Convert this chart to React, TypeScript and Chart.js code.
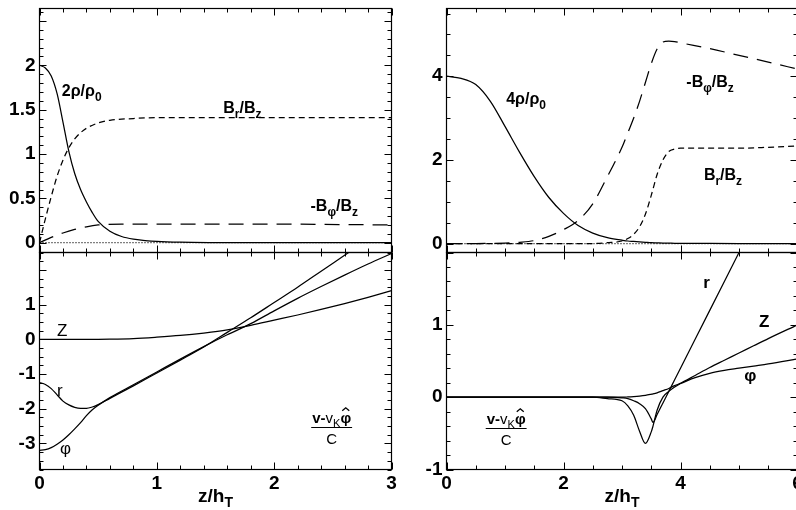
import React, { useEffect, useRef } from 'react';
import { Chart, registerables } from 'chart.js';

Chart.register(...registerables);

// ---------------- data ----------------
const LEFT_X_TICKS = [0, 1, 2, 3];
const RIGHT_X_TICKS = [0, 2, 4, 6];
const TL_Y_TICKS = [0, 0.5, 1, 1.5, 2];
const BL_Y_TICKS = [-3, -2, -1, 0, 1];
const TR_Y_TICKS = [0, 2, 4];
const BR_Y_TICKS = [-1, 0, 1];

// top-left
const TL_RHO_X = [0, 0.05, 0.1, 0.15, 0.2, 0.25, 0.3, 0.35, 0.4, 0.45, 0.5, 0.6, 0.7, 0.8, 0.9, 1.0, 1.2, 1.5, 2.0, 3.0];
const TL_RHO = [2.0, 1.97, 1.88, 1.68, 1.36, 1.03, 0.78, 0.6, 0.46, 0.34, 0.24, 0.13, 0.07, 0.04, 0.025, 0.015, 0.006, 0.002, 0, 0];
const TL_BR_X = [0, 0.05, 0.1, 0.15, 0.2, 0.25, 0.3, 0.35, 0.4, 0.5, 0.6, 0.8, 1.0, 1.5, 2.0, 3.0];
const TL_BR = [0, 0.27, 0.52, 0.75, 0.93, 1.07, 1.17, 1.24, 1.29, 1.35, 1.38, 1.4, 1.41, 1.41, 1.41, 1.41];
const TL_BPHI_X = [0, 0.1, 0.2, 0.3, 0.4, 0.5, 0.7, 1.0, 2.0, 3.0];
const TL_BPHI = [0, 0.06, 0.11, 0.15, 0.18, 0.2, 0.21, 0.21, 0.21, 0.2];
const TL_ZERO_X = [0, 3];
const TL_ZERO = [0, 0];

// bottom-left
const BL_X = [0, 0.05, 0.1, 0.15, 0.2, 0.25, 0.3, 0.35, 0.4, 0.45, 0.5, 0.6, 0.8, 1.0, 1.2, 1.4, 1.6, 1.8, 2.0, 2.2, 2.4, 2.6, 2.8, 3.0];
const BL_Z = [0, 0, 0, 0, 0, 0, 0, 0, 0, 0, 0, 0.003, 0.02, 0.06, 0.11, 0.18, 0.27, 0.4, 0.55, 0.7, 0.86, 1.03, 1.21, 1.4];
const BL_R = [-1.25, -1.3, -1.42, -1.6, -1.78, -1.89, -1.96, -1.99, -1.99, -1.95, -1.88, -1.7, -1.34, -0.97, -0.6, -0.22, 0.2, 0.62, 1.06, 1.5, 1.96, 2.42, 2.88, 3.34];
const BL_PHI = [-3.2, -3.18, -3.12, -3.02, -2.9, -2.75, -2.58, -2.4, -2.2, -2.03, -1.9, -1.68, -1.31, -0.94, -0.57, -0.21, 0.13, 0.45, 0.82, 1.18, 1.52, 1.85, 2.17, 2.47];

// top-right
const TR_X = [0, 0.25, 0.5, 0.75, 1.0, 1.25, 1.5, 1.75, 2.0, 2.25, 2.5, 2.75, 3.0, 3.1, 3.2, 3.3, 3.4, 3.5, 3.6, 3.7, 3.8, 3.9, 4.0, 4.5, 5.0, 5.5, 6.0];
const TR_RHO = [4.0, 3.95, 3.8, 3.4, 2.8, 2.18, 1.6, 1.1, 0.72, 0.43, 0.25, 0.14, 0.08, 0.06, 0.05, 0.04, 0.03, 0.02, 0.015, 0.01, 0.008, 0.005, 0.004, 0.001, 0, 0, 0];
const TR_BPHI = [0, 0, 0, 0.005, 0.01, 0.03, 0.07, 0.17, 0.33, 0.55, 0.95, 1.6, 2.3, 2.65, 3.0, 3.4, 3.85, 4.3, 4.65, 4.82, 4.84, 4.83, 4.8, 4.66, 4.5, 4.34, 4.17];
const TR_BR = [0, 0, 0, 0, 0, 0, 0, 0, 0, 0, 0, 0.02, 0.06, 0.12, 0.22, 0.4, 0.7, 1.15, 1.65, 2.0, 2.2, 2.26, 2.28, 2.28, 2.28, 2.3, 2.33];
const TR_ZERO_X = [0, 6];
const TR_ZERO = [0, 0];

// bottom-right
const BR_X = [0, 1, 2, 2.5, 2.75, 3.0, 3.1, 3.2, 3.3, 3.4, 3.5, 3.53, 3.6, 3.7, 3.8, 3.9, 4.0, 4.25, 4.5, 4.75, 5.0, 5.25, 5.5, 6.0];
const BR_R = [0, 0, 0, 0, 0, -0.01, -0.02, -0.05, -0.09, -0.16, -0.3, -0.35, -0.24, -0.08, 0.08, 0.24, 0.4, 0.8, 1.2, 1.6, 2.0, 2.4, 2.8, 3.6];
const BR_Z = [0, 0, 0, 0, -0.02, -0.05, -0.12, -0.25, -0.47, -0.64, -0.48, -0.4, -0.18, 0.0, 0.08, 0.14, 0.19, 0.3, 0.41, 0.51, 0.61, 0.71, 0.81, 1.0];
const BR_PHI = [0, 0, 0, 0, 0, 0, 0.003, 0.008, 0.015, 0.025, 0.04, 0.045, 0.06, 0.09, 0.12, 0.16, 0.19, 0.27, 0.33, 0.37, 0.4, 0.43, 0.46, 0.53];

// ---------------- styling / layout ----------------
const FONT = '"Liberation Sans", Arial, Helvetica, sans-serif';
const CW = 800;
const CH = 510;
const Y_W = 30;
const X_H = 40;
const SOLID: number[] = [];
const SHORT_DASH = [6, 4];
const LONG_DASH = [15, 9];
const DOTTED = [1, 2];

type Part = { t: string; sub?: boolean; bold?: boolean; hat?: boolean };
type Label = { x: number; y: number; parts: Part[]; bold?: boolean; size?: number };
type Frac = { x: number; y: number; num: Part[]; den: string };
type Series = { x: number[]; y: number[]; dash: number[]; width?: number };
type Panel = {
  x0: number; x1: number; y0: number; y1: number;
  xMin: number; xMax: number; yMin: number; yMax: number;
  xTicks: number[]; yTicks: number[];
  xMinor: number; xMajor: number; yMinor: number; yMajor: number;
  showX: boolean;
  series: Series[];
  labels: Label[];
  frac?: Frac;
};

const B_R: Part[] = [{ t: 'B' }, { t: 'r', sub: true }, { t: '/B' }, { t: 'z', sub: true }];
const B_PHI: Part[] = [{ t: '-B' }, { t: 'φ', sub: true }, { t: '/B' }, { t: 'z', sub: true }];
const V_FRAC: Part[] = [{ t: 'v', bold: true }, { t: '-', bold: true }, { t: 'v', bold: false }, { t: 'K', sub: true, bold: false }, { t: 'φ', bold: true, hat: true }];

const PANELS: Panel[] = [
  {
    x0: 39.5, x1: 391.5, y0: 8.5, y1: 252.5,
    xMin: 0, xMax: 3, yMin: -0.11, yMax: 2.64,
    xTicks: LEFT_X_TICKS, yTicks: TL_Y_TICKS,
    xMinor: 0.2, xMajor: 1, yMinor: 0.1, yMajor: 0.5,
    showX: false,
    series: [
      { x: TL_ZERO_X, y: TL_ZERO, dash: DOTTED },
      { x: TL_RHO_X, y: TL_RHO, dash: SOLID },
      { x: TL_BR_X, y: TL_BR, dash: SHORT_DASH },
      { x: TL_BPHI_X, y: TL_BPHI, dash: LONG_DASH },
    ],
    labels: [
      { x: 0.19, y: 1.65, parts: [{ t: '2ρ/ρ' }, { t: '0', sub: true }] },
      { x: 1.566, y: 1.46, parts: B_R },
      { x: 2.31, y: 0.357, parts: B_PHI },
    ],
  },
  {
    x0: 39.5, x1: 391.5, y0: 252.5, y1: 469.5,
    xMin: 0, xMax: 3, yMin: -3.75, yMax: 2.5,
    xTicks: LEFT_X_TICKS, yTicks: BL_Y_TICKS,
    xMinor: 0.2, xMajor: 1, yMinor: 0.25, yMajor: 1,
    showX: true,
    series: [
      { x: BL_X, y: BL_Z, dash: SOLID },
      { x: BL_X, y: BL_R, dash: SOLID },
      { x: BL_X, y: BL_PHI, dash: SOLID },
    ],
    labels: [
      { x: 0.15, y: 0.1, parts: [{ t: 'Z' }], bold: false, size: 17 },
      { x: 0.15, y: -1.62, parts: [{ t: 'r' }], bold: false, size: 17 },
      { x: 0.175, y: -3.29, parts: [{ t: 'φ' }], bold: false, size: 17 },
    ],
    frac: { x: 2.49, y: -2.53, num: V_FRAC, den: 'C' },
  },
  {
    x0: 446.5, x1: 797.5, y0: 8.5, y1: 252.5,
    xMin: 0, xMax: 6, yMin: -0.215, yMax: 5.62,
    xTicks: RIGHT_X_TICKS, yTicks: TR_Y_TICKS,
    xMinor: 0.5, xMajor: 2, yMinor: 0.5, yMajor: 2,
    showX: false,
    series: [
      { x: TR_ZERO_X, y: TR_ZERO, dash: DOTTED },
      { x: TR_X, y: TR_RHO, dash: SOLID },
      { x: TR_X, y: TR_BPHI, dash: LONG_DASH },
      { x: TR_X, y: TR_BR, dash: SHORT_DASH },
    ],
    labels: [
      { x: 1.02, y: 3.33, parts: [{ t: '4ρ/ρ' }, { t: '0', sub: true }] },
      { x: 4.1, y: 3.74, parts: B_PHI },
      { x: 4.4, y: 1.52, parts: B_R },
    ],
  },
  {
    x0: 446.5, x1: 797.5, y0: 252.5, y1: 469.5,
    xMin: 0, xMax: 6, yMin: -1, yMax: 2,
    xTicks: RIGHT_X_TICKS, yTicks: BR_Y_TICKS,
    xMinor: 0.5, xMajor: 2, yMinor: 0.2, yMajor: 1,
    showX: true,
    series: [
      { x: BR_X, y: BR_R, dash: SOLID },
      { x: BR_X, y: BR_Z, dash: SOLID },
      { x: BR_X, y: BR_PHI, dash: SOLID },
    ],
    labels: [
      { x: 4.39, y: 1.51, parts: [{ t: 'r' }], size: 17 },
      { x: 5.34, y: 0.97, parts: [{ t: 'Z' }], size: 17 },
      { x: 5.09, y: 0.23, parts: [{ t: 'φ' }], size: 17 },
    ],
    frac: { x: 1.02, y: -0.42, num: V_FRAC, den: 'C' },
  },
];

function partFont(p: Part, size: number, bold: boolean) {
  const b = p.bold !== undefined ? p.bold : bold;
  const s = p.sub ? Math.round(size * 0.72) : size;
  return `${b ? 'bold ' : ''}${s}px ${FONT}`;
}

function measureRich(ctx: CanvasRenderingContext2D, parts: Part[], size: number, bold: boolean) {
  return parts.map((p) => {
    ctx.font = partFont(p, size, bold);
    return ctx.measureText(p.t).width;
  });
}

function drawRich(ctx: CanvasRenderingContext2D, parts: Part[], x: number, y: number, size: number, bold: boolean, align: 'left' | 'center') {
  const widths = measureRich(ctx, parts, size, bold);
  const total = widths.reduce((a, b) => a + b, 0);
  let cx = align === 'center' ? x - total / 2 : x;
  ctx.textAlign = 'left';
  ctx.textBaseline = 'alphabetic';
  parts.forEach((p, i) => {
    ctx.font = partFont(p, size, bold);
    const yy = p.sub ? y + size * 0.3 : y;
    ctx.fillText(p.t, cx, yy);
    if (p.hat) {
      const mx = cx + widths[i] / 2;
      const top = y - size * 0.98;
      ctx.beginPath();
      ctx.moveTo(mx - 3.5, top + 3);
      ctx.lineTo(mx, top);
      ctx.lineTo(mx + 3.5, top + 3);
      ctx.lineWidth = 1.3;
      ctx.stroke();
    }
    cx += widths[i];
  });
  return total;
}

function makePlugin(panel: Panel) {
  return {
    id: 'panelDecor',
    afterDraw(chart: any) {
      const { ctx, chartArea: a, scales } = chart;
      const xs = scales.x;
      const ys = scales.y;
      ctx.save();
      ctx.strokeStyle = '#000';
      ctx.fillStyle = '#000';
      ctx.lineWidth = 1.2;
      ctx.strokeRect(a.left, a.top, a.right - a.left, a.bottom - a.top);
      ctx.lineWidth = 1;
      const seg = (x1: number, y1: number, x2: number, y2: number) => {
        ctx.beginPath();
        ctx.moveTo(x1, y1);
        ctx.lineTo(x2, y2);
        ctx.stroke();
      };
      const ticks = (min: number, max: number, minor: number, major: number, fn: (v: number, len: number) => void) => {
        const n0 = Math.ceil(min / minor - 1e-6);
        const n1 = Math.floor(max / minor + 1e-6);
        for (let n = n0; n <= n1; n++) {
          const v = n * minor;
          const r = v / major;
          const isMajor = Math.abs(r - Math.round(r)) < 1e-6;
          fn(v, isMajor ? 7 : 4);
        }
      };
      ticks(panel.xMin, panel.xMax, panel.xMinor, panel.xMajor, (v, len) => {
        const p = Math.round(xs.getPixelForValue(v)) + 0.5;
        seg(p, a.top, p, a.top + len);
        seg(p, a.bottom, p, a.bottom - len);
      });
      ticks(panel.yMin, panel.yMax, panel.yMinor, panel.yMajor, (v, len) => {
        const p = Math.round(ys.getPixelForValue(v)) + 0.5;
        seg(a.left, p, a.left + len, p);
        seg(a.right, p, a.right - len, p);
      });
      for (const l of panel.labels) {
        drawRich(ctx, l.parts, xs.getPixelForValue(l.x), ys.getPixelForValue(l.y), l.size ?? 16, l.bold !== false, 'left');
      }
      if (panel.frac) {
        const f = panel.frac;
        const cx = xs.getPixelForValue(f.x);
        const ly = Math.round(ys.getPixelForValue(f.y)) + 0.5;
        const w = measureRich(ctx, f.num, 15, false).reduce((s, b) => s + b, 0);
        drawRich(ctx, f.num, cx, ly - 5, 15, false, 'center');
        ctx.lineWidth = 1;
        seg(cx - w / 2 - 1, ly, cx + w / 2 + 1, ly);
        ctx.font = `15px ${FONT}`;
        ctx.textAlign = 'center';
        ctx.fillText(f.den, cx, ly + 16);
      }
      if (panel.showX) {
        const cx = (a.left + a.right) / 2;
        drawRich(ctx, [{ t: 'z/h' }, { t: 'T', sub: true }], cx, a.bottom + 32, 19, true, 'center');
      }
      ctx.restore();
    },
  };
}

function buildConfig(panel: Panel): any {
  const tickFont = { family: FONT, size: 19, weight: 'bold' as const };
  const fixAxis = (size: number, horizontal: boolean, shown: boolean) => (s: any) => {
    const v = shown ? size : 0;
    if (horizontal) s.height = v; else s.width = v;
    s.paddingTop = 0; s.paddingBottom = 0; s.paddingLeft = 0; s.paddingRight = 0;
  };
  return {
    type: 'line',
    data: {
      datasets: panel.series.map((s) => ({
        data: s.x.map((x, i) => ({ x, y: s.y[i] })),
        borderColor: '#000',
        borderWidth: s.width ?? 1.25,
        borderDash: s.dash,
        pointRadius: 0,
        fill: false,
        cubicInterpolationMode: 'monotone',
      })),
    },
    options: {
      responsive: false,
      animation: false,
      events: [],
      layout: {
        padding: {
          left: panel.x0 - Y_W,
          top: panel.y0,
          right: CW - panel.x1,
          bottom: CH - panel.y1 - (panel.showX ? X_H : 0),
        },
      },
      plugins: { legend: { display: false }, tooltip: { enabled: false } },
      scales: {
        x: {
          type: 'linear',
          min: panel.xMin,
          max: panel.xMax,
          display: panel.showX,
          grid: { display: false, drawTicks: false },
          border: { display: false },
          ticks: { color: '#000', font: tickFont, padding: 3, autoSkip: false, maxRotation: 0, callback: (v: number) => String(v) },
          afterBuildTicks: (s: any) => { s.ticks = panel.xTicks.map((v) => ({ value: v })); },
          afterFit: fixAxis(X_H, true, panel.showX),
        },
        y: {
          type: 'linear',
          min: panel.yMin,
          max: panel.yMax,
          grid: { display: false, drawTicks: false },
          border: { display: false },
          ticks: { color: '#000', font: tickFont, padding: 4, autoSkip: false, callback: (v: number) => String(v) },
          afterBuildTicks: (s: any) => { s.ticks = panel.yTicks.map((v) => ({ value: v })); },
          afterFit: fixAxis(Y_W, false, true),
        },
      },
    },
    plugins: [makePlugin(panel)],
  };
}

function PanelChart({ panel }: { panel: Panel }) {
  const ref = useRef<HTMLCanvasElement>(null);
  useEffect(() => {
    const chart = new Chart(ref.current as HTMLCanvasElement, buildConfig(panel));
    return () => chart.destroy();
  }, [panel]);
  return (
    <canvas
      ref={ref}
      width={CW}
      height={CH}
      style={{ position: 'absolute', left: 0, top: 0, width: CW, height: CH }}
    />
  );
}

export default function App() {
  return (
    <div style={{ position: 'fixed', left: 0, top: 0, width: 796, height: 510, overflow: 'hidden', background: '#fff' }}>
      {PANELS.map((p, i) => (
        <PanelChart key={i} panel={p} />
      ))}
    </div>
  );
}
